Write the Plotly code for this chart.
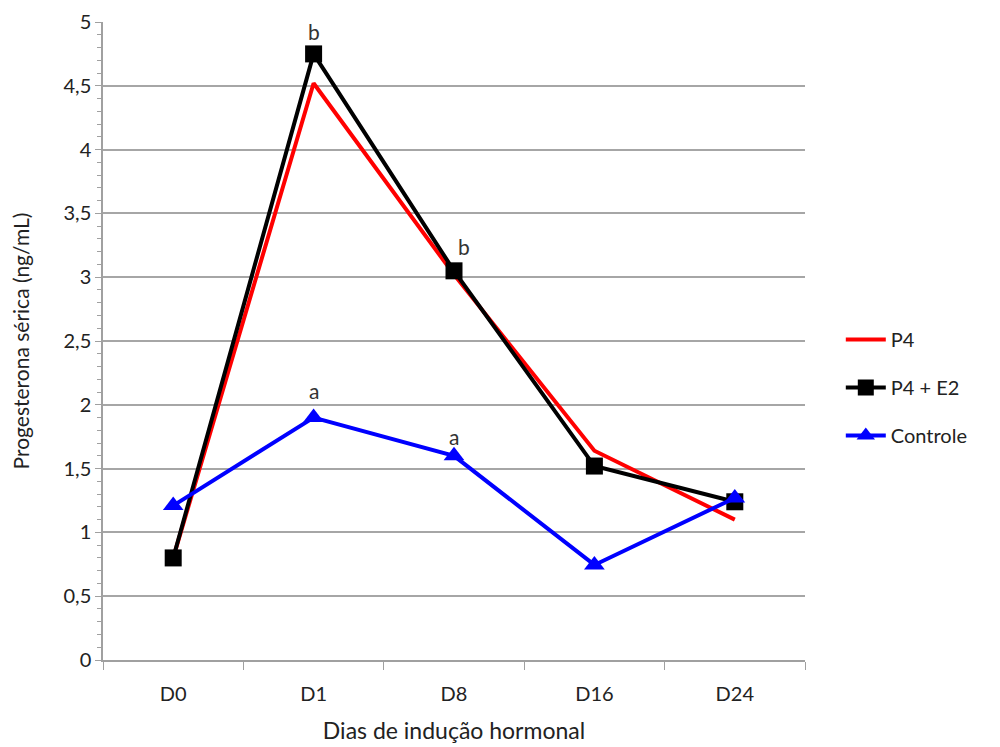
import plotly.graph_objects as go

categories = ["D0", "D1", "D8", "D16", "D24"]
p4 = [0.80, 4.52, 3.02, 1.64, 1.10]
p4_e2 = [0.80, 4.75, 3.05, 1.52, 1.24]
controle = [1.21, 1.90, 1.60, 0.745, 1.27]

letters_black = [(1, "b", 0, 22), (2, "b", 10, 24)]
letters_blue = [(1, "a", 0, 27), (2, "a", 0, 19)]

FONT = "Lato"

fig = go.Figure()
fig.add_trace(go.Scatter(x=categories, y=p4, mode="lines", name="P4", legendgroup="g1",
                         line=dict(color="#ff0000", width=4)))
fig.add_trace(go.Scatter(x=categories, y=p4_e2, mode="lines+markers", name="P4 + E2", legendgroup="g2",
                         line=dict(color="#000000", width=4),
                         marker=dict(symbol="square", size=17, color="#000000")))
fig.add_trace(go.Scatter(x=categories, y=controle, mode="lines+markers", name="Controle", legendgroup="g3",
                         line=dict(color="#0000ff", width=4),
                         marker=dict(symbol="triangle-up", size=18, color="#0000ff")))

for idx, txt, dx, dy in letters_black:
    fig.add_annotation(x=categories[idx], y=p4_e2[idx], text=txt, showarrow=False,
                       xshift=dx, yshift=dy, font=dict(size=21, color="#333333", family=FONT))
for idx, txt, dx, dy in letters_blue:
    fig.add_annotation(x=categories[idx], y=controle[idx], text=txt, showarrow=False,
                       xshift=dx, yshift=dy, font=dict(size=21, color="#333333", family=FONT))

fig.update_layout(
    width=1000, height=747,
    margin=dict(l=95, r=203, t=14, b=95, autoexpand=False),
    paper_bgcolor="white", plot_bgcolor="white",
    separators=",.",
    font=dict(family=FONT, size=20, color="#222222"),
    showlegend=True,
    legend=dict(x=1.051, y=0.427, xanchor="left", yanchor="middle",
                font=dict(size=20, family=FONT, color="#222222"),
                tracegroupgap=19, itemwidth=40,
                bgcolor="rgba(0,0,0,0)"),
)
fig.update_xaxes(
    type="category", range=[-0.5, 4.5], automargin=False,
    showgrid=False, showline=True, linecolor="#a0a0a0", linewidth=1.5,
    ticks="outside", tickson="boundaries", ticklen=8, tickcolor="#a0a0a0",
    ticklabelstandoff=15,
    tickfont=dict(size=20, family=FONT),
    title=dict(text="Dias de indução hormonal", font=dict(size=23, family=FONT), standoff=19),
)
fig.update_yaxes(
    range=[0, 5], dtick=0.5, tick0=0, automargin=False,
    showgrid=True, gridcolor="#a6a6a6", gridwidth=1.5,
    showline=True, linecolor="#a0a0a0", linewidth=1.5,
    ticks="outside", ticklen=6, tickcolor="#a0a0a0",
    ticklabeloverflow="allow",
    minor=dict(dtick=0.1, ticks="outside", ticklen=4, tickcolor="#a0a0a0", showgrid=False),
    tickfont=dict(size=20, family=FONT),
    zeroline=False,
    title=dict(text="Progesterona sérica (ng/mL)", font=dict(size=21, family=FONT), standoff=28),
)

fig.write_html("out.html")
